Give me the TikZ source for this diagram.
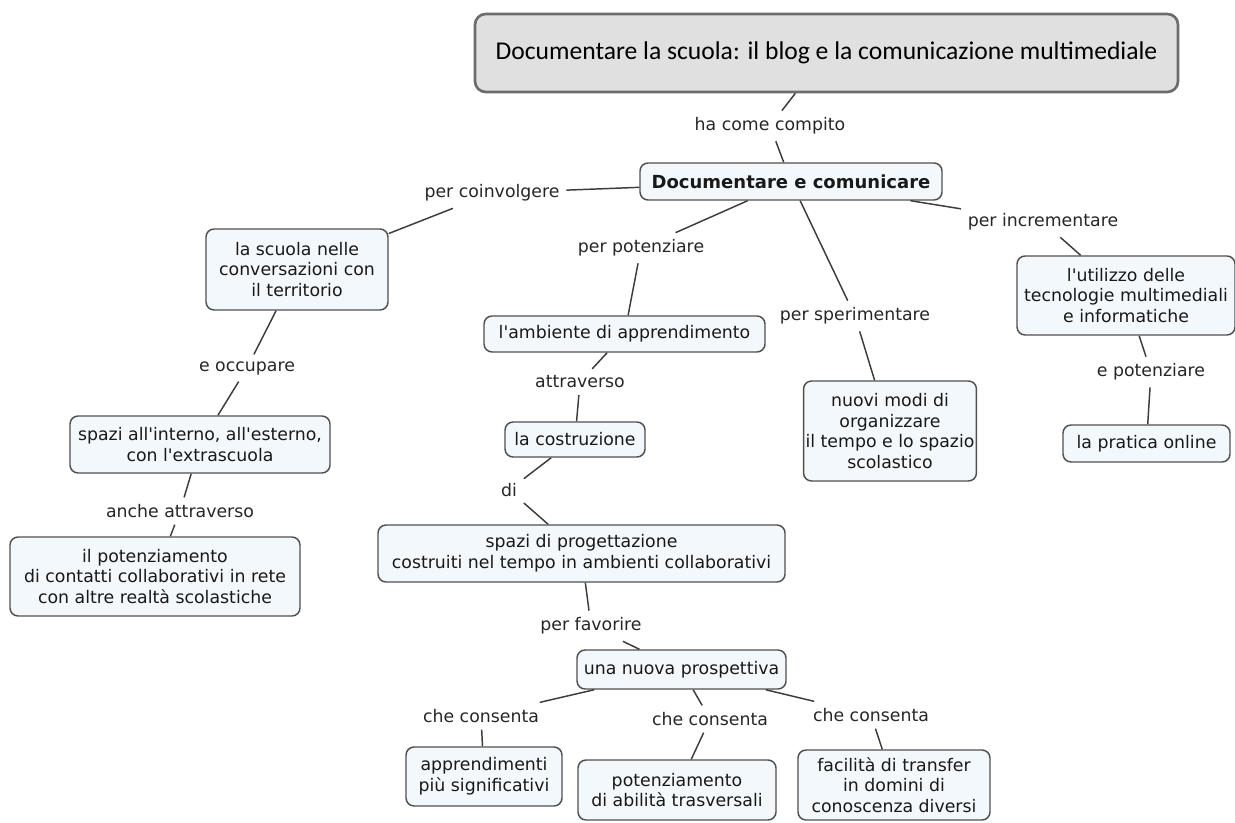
\documentclass[tikz,border=0pt]{standalone}
\usepackage{fontspec}
\setmainfont{DejaVu Sans}
\newfontfamily\titlefont{Carlito}
\definecolor{boxfill}{HTML}{F2F8FC}
\definecolor{boxline}{HTML}{505050}
\definecolor{linkgray}{HTML}{3C3C3C}
\definecolor{titlefill}{HTML}{E0E0E0}
\begin{document}
\begin{tikzpicture}[x=0.75pt, y=-0.75pt,
    concept/.style 2 args={draw=boxline, fill=boxfill, line width=1.1pt, rounded corners=6pt,
      align=center, inner sep=1.5pt, text=black!90,
      minimum width=#1*0.75pt, minimum height=#2*0.75pt,
      font=\fontsize{13}{15.5}\selectfont},
    link/.style={inner sep=5pt, text=black!85, font=\fontsize{13}{15}\selectfont},
    conn/.style={draw=linkgray, line width=1.1pt}]
  \useasboundingbox (0,0) rectangle (1235,823);

  % title and main concept
  \node[draw=gray!85!black, fill=titlefill, line width=2pt, rounded corners=8pt,
        minimum width=703*0.75pt, minimum height=78*0.75pt,
        font=\titlefont\fontsize{19.2}{22}\selectfont] (title) at (826.5,53)
        {Documentare la scuola: il blog e la comunicazione multimediale};
  \node[concept={302}{37}, font=\bfseries\fontsize{13.5}{15}\selectfont] (main) at (791,181.5)
        {Documentare e comunicare};

  % left branch
  \node[concept={182}{81}] (scuola) at (297,269.5) {la scuola nelle\\conversazioni con\\il territorio};
  \node[concept={260}{57}] (interno) at (200,444.5) {spazi all\textquotesingle interno, all\textquotesingle esterno,\\con l\textquotesingle extrascuola};
  \node[concept={290}{79}] (contatti) at (155,576.5) {il potenziamento\\di contatti collaborativi in rete\\con altre realtà scolastiche};

  % middle branch
  \node[concept={281}{36}] (ambiente) at (624.5,334) {l\textquotesingle ambiente di apprendimento};
  \node[concept={140}{35}] (costruzione) at (575,439.5) {la costruzione};
  \node[concept={407}{57}] (progetto) at (581.5,553.5) {spazi di progettazione\\costruiti nel tempo in ambienti collaborativi};
  \node[concept={209}{39}] (prospettiva) at (681.5,669.5) {una nuova prospettiva};
  \node[concept={156}{59}] (apprend) at (484,776.5) {apprendimenti\\più significativi};
  \node[concept={198}{60}] (abilita) at (677,790) {potenziamento\\di abilità trasversali};
  \node[concept={192}{70}] (transfer) at (894,785) {facilità di transfer\\in domini di\\conoscenza diversi};

  % right branches
  \node[concept={168}{100}] (modi) at (890,431) {nuovi modi di\\organizzare\\il tempo e lo spazio\\scolastico};
  \node[concept={218}{79}] (tecno) at (1126,295.5) {l\textquotesingle utilizzo delle\\tecnologie multimediali\\e informatiche};
  \node[concept={167}{37}] (pratica) at (1146.5,443.5) {la pratica online};

  % linking phrases
  \node[link] (compito) at (770,126) {ha come compito};
  \node[link] (coinv) at (492,193) {per coinvolgere};
  \node[link] (occup) at (247,368) {e occupare};
  \node[link] (anche) at (180,511) {anche attraverso};
  \node[link] (potenz) at (641,248) {per potenziare};
  \node[link] (attrav) at (580,382) {attraverso};
  \node[link] (di) at (509,490) {di};
  \node[link] (favor) at (591,626) {per favorire};
  \node[link] (cons1) at (481,716) {che consenta};
  \node[link] (cons2) at (710,719) {che consenta};
  \node[link] (cons3) at (871,715) {che consenta};
  \node[link] (speriment) at (855,316) {per sperimentare};
  \node[link] (increm) at (1043,222) {per incrementare};
  \node[link] (epotenz) at (1151,372) {e potenziare};

  % connectors
  \draw[conn] (title) -- (compito) -- (main);
  \draw[conn] (main) -- (coinv) -- (scuola);
  \draw[conn] (scuola) -- (occup) -- (interno);
  \draw[conn] (interno) -- (anche) -- (contatti);
  \draw[conn] (main) -- (potenz) -- (ambiente);
  \draw[conn] (ambiente) -- (attrav) -- (costruzione);
  \draw[conn] (costruzione) -- (di) -- (progetto);
  \draw[conn] (progetto) -- (favor) -- (prospettiva);
  \draw[conn] (prospettiva) -- (cons1) -- (apprend);
  \draw[conn] (prospettiva) -- (cons2) -- (abilita);
  \draw[conn] (prospettiva) -- (cons3) -- (transfer);
  \draw[conn] (main) -- (speriment) -- (modi);
  \draw[conn] (main) -- (increm) -- (tecno);
  \draw[conn] (tecno) -- (epotenz) -- (pratica);
\end{tikzpicture}
\end{document}
